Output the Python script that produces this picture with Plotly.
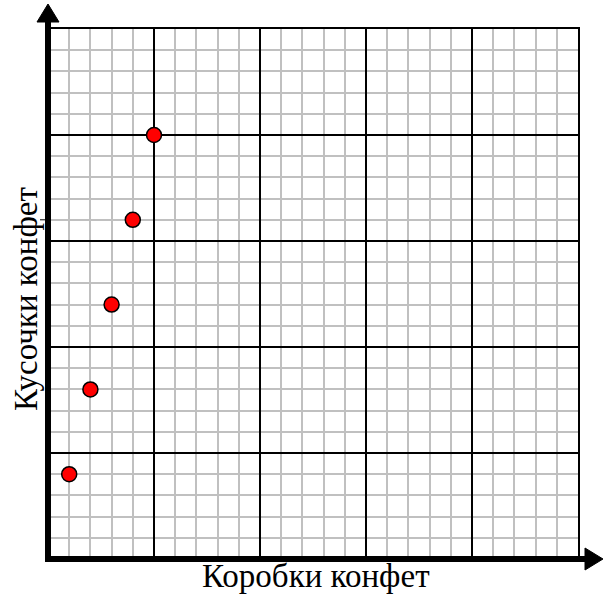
import plotly.graph_objects as go

# Data
boxes = [1, 2, 3, 4, 5]
pieces = [4, 8, 12, 16, 20]
x_title = "Коробки конфет"
y_title = "Кусочки конфет"

W, H = 604, 594
L, R, T, B = 48, 26, 29, 35
PW, PH = W - L - R, H - T - B


def px(xp):
    return (xp - L) / PW


def py(yp):
    return (H - B - yp) / PH


fig = go.Figure()
fig.add_trace(go.Scatter(
    x=boxes, y=pieces, mode="markers",
    marker=dict(size=15, color="#ff0000", line=dict(color="black", width=1.5)),
    showlegend=False, hoverinfo="skip", cliponaxis=False,
))

axis_common = dict(
    range=[0, 25], dtick=5, tick0=0,
    showgrid=True, gridcolor="black", gridwidth=2,
    minor=dict(dtick=1, showgrid=True, gridcolor="#c0c0c0", gridwidth=2),
    showticklabels=False, ticks="", zeroline=False,
    showline=True, linecolor="black", linewidth=2, mirror=True,
    fixedrange=True,
)
fig.update_xaxes(**axis_common)
fig.update_yaxes(**axis_common)

shapes = []
# thick axes
shapes.append(dict(type="line", xref="paper", yref="paper",
                   x0=px(48), y0=py(562), x1=px(48), y1=py(18),
                   line=dict(color="black", width=6), layer="above"))
shapes.append(dict(type="line", xref="paper", yref="paper",
                   x0=px(45), y0=py(559), x1=px(590), y1=py(559),
                   line=dict(color="black", width=6), layer="above"))
# arrowheads
shapes.append(dict(type="path", xref="paper", yref="paper",
                   path=f"M {px(48)} {py(4)} L {px(37)} {py(22)} L {px(59)} {py(22)} Z",
                   fillcolor="black", line=dict(color="black", width=1), layer="above"))
shapes.append(dict(type="path", xref="paper", yref="paper",
                   path=f"M {px(603)} {py(559)} L {px(585)} {py(548)} L {px(585)} {py(570)} Z",
                   fillcolor="black", line=dict(color="black", width=1), layer="above"))
# small tick on the left axis
shapes.append(dict(type="line", xref="paper", yref="y",
                   x0=px(40), y0=pieces[3], x1=px(48), y1=pieces[3],
                   line=dict(color="black", width=1), layer="above"))

FONT = "'Liberation Serif', 'Times New Roman', serif"

fig.update_layout(
    width=W, height=H,
    margin=dict(l=L, r=R, t=T, b=B, pad=0),
    plot_bgcolor="white", paper_bgcolor="white",
    shapes=shapes,
    annotations=[
        dict(text=x_title, xref="paper", yref="paper", x=px(316), y=py(576),
             xanchor="center", yanchor="middle", showarrow=False,
             font=dict(family=FONT, size=33, color="black")),
        dict(text=y_title, xref="paper", yref="paper", x=px(26), y=py(299),
             xanchor="center", yanchor="middle", showarrow=False, textangle=-90,
             font=dict(family=FONT, size=33, color="black")),
    ],
)

fig.write_html("out.html", config={"displayModeBar": False},
               post_script="document.body.style.margin='0px';")
